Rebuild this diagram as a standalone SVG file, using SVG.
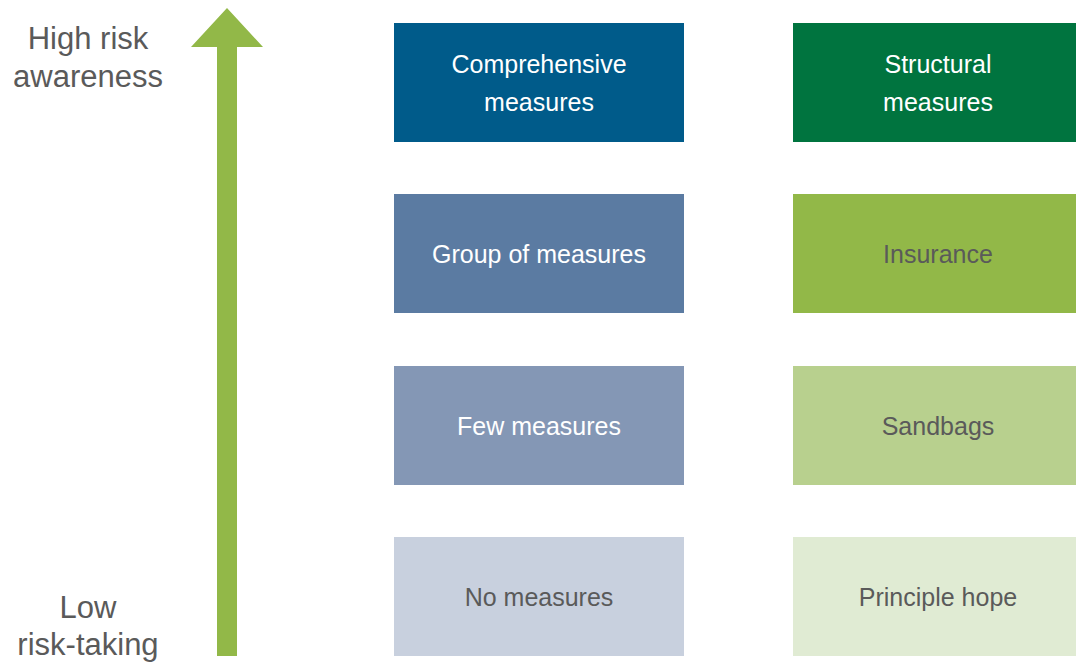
<svg xmlns="http://www.w3.org/2000/svg" width="1076" height="664" viewBox="0 0 1076 664">
<style>
.lbl{font-family:"Liberation Sans",Arial,sans-serif;font-size:25px;text-anchor:middle}
.w{fill:#ffffff}
.g{fill:#5a5a5a}
.side{font-family:"Liberation Sans",Arial,sans-serif;font-size:31px;fill:#5a5a5a;text-anchor:middle}
</style>
<rect width="1076" height="664" fill="#ffffff"/>
<g id="connectors">
<polygon points="227,8 263,47 237,47 237,656 217,656 217,47 191,47" fill="#92b848"/>
</g>
<g id="label-high"><text class="side" x="88" y="49">High risk</text><text class="side" x="88" y="87">awareness</text></g>
<g id="label-low"><text class="side" x="88" y="618">Low</text><text class="side" x="88" y="655">risk-taking</text></g>
<g id="comprehensive"><rect x="394" y="23" width="290" height="119" fill="#005b8a"/><text class="lbl w" x="539" y="73">Comprehensive</text><text class="lbl w" x="539" y="111">measures</text></g>
<g id="group"><rect x="394" y="194" width="290" height="119" fill="#5b7ba2"/><text class="lbl w" x="539" y="263">Group of measures</text></g>
<g id="few"><rect x="394" y="366" width="290" height="119" fill="#8497b5"/><text class="lbl w" x="539" y="435">Few measures</text></g>
<g id="none"><rect x="394" y="537" width="290" height="119" fill="#c8d0de"/><text class="lbl g" x="539" y="606">No measures</text></g>
<g id="structural"><rect x="793" y="23" width="283" height="119" fill="#00743f"/><text class="lbl w" x="938" y="73">Structural</text><text class="lbl w" x="938" y="111">measures</text></g>
<g id="insurance"><rect x="793" y="194" width="283" height="119" fill="#92b848"/><text class="lbl g" x="938" y="263">Insurance</text></g>
<g id="sandbags"><rect x="793" y="366" width="283" height="119" fill="#b8d08e"/><text class="lbl g" x="938" y="435">Sandbags</text></g>
<g id="hope"><rect x="793" y="537" width="283" height="119" fill="#e0ebd3"/><text class="lbl g" x="938" y="606">Principle hope</text></g>
</svg>
